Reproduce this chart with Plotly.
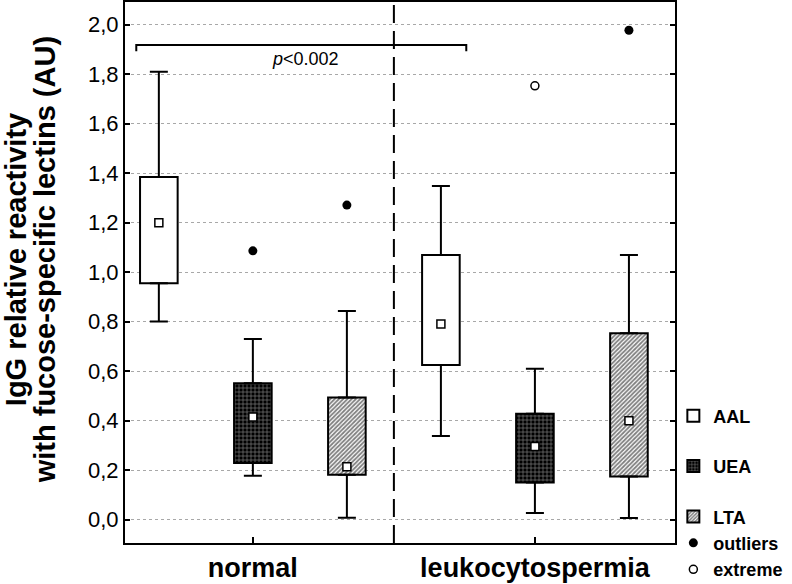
import plotly.graph_objects as go

# ---------------- data ----------------
groups = ["normal", "leukocytospermia"]
lectins = ["AAL", "UEA", "LTA"]

box_group = ["normal", "normal", "normal",
             "leukocytospermia", "leukocytospermia", "leukocytospermia"]
box_lectin = ["AAL", "UEA", "LTA", "AAL", "UEA", "LTA"]
whisker_min = [0.800, 0.177, 0.007, 0.338, 0.026, 0.006]
quartile1 = [0.955, 0.228, 0.181, 0.625, 0.150, 0.174]
median = [1.200, 0.414, 0.213, 0.790, 0.295, 0.399]
quartile3 = [1.385, 0.551, 0.493, 1.069, 0.427, 0.753]
whisker_max = [1.810, 0.730, 0.843, 1.348, 0.609, 1.069]

outlier_group = ["normal", "normal", "leukocytospermia"]
outlier_lectin = ["UEA", "LTA", "LTA"]
outlier_value = [1.086, 1.271, 1.978]

extreme_group = ["leukocytospermia"]
extreme_lectin = ["UEA"]
extreme_value = [1.753]

y_ticks = [0.0, 0.2, 0.4, 0.6, 0.8, 1.0, 1.2, 1.4, 1.6, 1.8, 2.0]
p_text = "<i>p</i>&lt;0.002"

# ---------------- helpers ----------------
def xpos(g, l):
    return groups.index(g) * len(lectins) + lectins.index(l)

BOX_W = 0.40
FONT = "Liberation Sans, Arial, sans-serif"

patterns = {
    "AAL": dict(shape="", fgcolor="black", bgcolor="white"),
    "UEA": dict(shape="+", fgcolor="white", bgcolor="black", size=4, solidity=0.3),
    "LTA": dict(shape="/", fgcolor="black", bgcolor="white", size=3, solidity=0.6),
}

fig = go.Figure()

# boxes (quartile ranges) as bars with a base
for i, lec in enumerate(lectins):
    idx = [k for k, l in enumerate(box_lectin) if l == lec]
    xs = [xpos(box_group[k], box_lectin[k]) for k in idx]
    fig.add_trace(go.Bar(
        x=xs,
        y=[quartile3[k] - quartile1[k] for k in idx],
        base=[quartile1[k] for k in idx],
        width=BOX_W,
        name=lec,
        legendgroup="g%d" % i if lec != "LTA" else "g_last",
        marker=dict(color="white", line=dict(color="black", width=2),
                    pattern=patterns[lec]),
        hoverinfo="skip",
    ))

xs_all = [xpos(g, l) for g, l in zip(box_group, box_lectin)]

# upper whiskers
fig.add_trace(go.Scatter(
    x=xs_all, y=quartile3, mode="markers",
    marker=dict(size=1, color="rgba(0,0,0,0)"),
    error_y=dict(type="data", symmetric=False,
                 array=[h - q for h, q in zip(whisker_max, quartile3)],
                 arrayminus=[0] * len(xs_all),
                 width=9, thickness=2, color="black"),
    showlegend=False, hoverinfo="skip",
))
# lower whiskers
fig.add_trace(go.Scatter(
    x=xs_all, y=quartile1, mode="markers",
    marker=dict(size=1, color="rgba(0,0,0,0)"),
    error_y=dict(type="data", symmetric=False,
                 array=[0] * len(xs_all),
                 arrayminus=[q - m for q, m in zip(quartile1, whisker_min)],
                 width=9, thickness=2, color="black"),
    showlegend=False, hoverinfo="skip",
))
# median squares
fig.add_trace(go.Scatter(
    x=xs_all, y=median, mode="markers",
    marker=dict(symbol="square", size=8, color="white",
                line=dict(color="black", width=1.5)),
    showlegend=False, hoverinfo="skip",
))
# outliers
fig.add_trace(go.Scatter(
    x=[xpos(g, l) for g, l in zip(outlier_group, outlier_lectin)],
    y=outlier_value, mode="markers", name="outliers", legendgroup="g_last",
    marker=dict(symbol="circle", size=9, color="black"),
))
# extremes
fig.add_trace(go.Scatter(
    x=[xpos(g, l) for g, l in zip(extreme_group, extreme_lectin)],
    y=extreme_value, mode="markers", name="extreme", legendgroup="g_last",
    marker=dict(symbol="circle", size=8, color="white",
                line=dict(color="black", width=1.5)),
))

# ---------------- decorations ----------------
n_l = len(lectins)
sep_x = n_l - 0.5
first_aal = xpos("normal", "AAL")
second_aal = xpos("leukocytospermia", "AAL")
br_left = first_aal - BOX_W / 2 - 0.04
br_right = second_aal + BOX_W / 2 + 0.07
br_y = 1.918
br_tip = 0.025

shapes = [
    dict(type="line", xref="x", yref="paper", x0=sep_x, x1=sep_x, y0=0, y1=1,
         line=dict(color="black", width=2, dash="18px,8px")),
    dict(type="path", xref="x", yref="y",
         path="M %f,%f L %f,%f L %f,%f L %f,%f" % (
             br_left, br_y - br_tip, br_left, br_y, br_right, br_y, br_right, br_y - br_tip),
         line=dict(color="black", width=2)),
]

annotations = [
    dict(text=p_text, x=(br_left + br_right) / 2 + 0.05, y=br_y - 0.058,
         xref="x", yref="y", showarrow=False, xanchor="center", yanchor="middle",
         font=dict(family=FONT, size=18, color="black")),
    dict(text="IgG relative reactivity", xref="paper", yref="paper",
         x=-0.198, y=0.523, textangle=-90, showarrow=False,
         xanchor="center", yanchor="middle",
         font=dict(family=FONT, size=29, color="black", weight="bold")),
    dict(text="with fucose-specific lectins (AU)", xref="paper", yref="paper",
         x=-0.145, y=0.523, textangle=-90, showarrow=False,
         xanchor="center", yanchor="middle",
         font=dict(family=FONT, size=29, color="black", weight="bold")),
]

fig.update_layout(
    width=792, height=584,
    margin=dict(l=125, r=117, t=2, b=41, autoexpand=False),
    plot_bgcolor="white", paper_bgcolor="white",
    barmode="overlay",
    separators=", ",
    font=dict(family=FONT, color="black"),
    shapes=shapes, annotations=annotations,
    showlegend=True,
    legend=dict(x=0.997, xanchor="left", y=0.269, yanchor="top",
                traceorder="grouped", tracegroupgap=24,
                bgcolor="rgba(0,0,0,0)",
                font=dict(family=FONT, size=18, color="black", weight="bold")),
)
fig.update_xaxes(
    range=[-0.36, 5.49], tickvals=[xpos(g, "UEA") for g in groups], ticktext=groups,
    ticks="inside", ticklen=6, tickwidth=1.5, tickcolor="black",
    showline=True, linewidth=2, linecolor="black", mirror=True,
    showgrid=False, zeroline=False, automargin=False,
    tickfont=dict(family=FONT, size=27, color="black", weight="bold"),
)
fig.update_yaxes(
    range=[-0.095, 2.092], tickvals=y_ticks, tickformat=".1f",
    ticks="inside", ticklen=5, tickwidth=1.5, tickcolor="black",
    showline=True, linewidth=2, linecolor="black", mirror="ticks",
    showgrid=True, gridcolor="#a8a8a8", griddash="dot", gridwidth=1,
    zeroline=False, automargin=False,
    tickfont=dict(family=FONT, size=22, color="black"),
)

fig.write_html("out.html",
               config={"displayModeBar": False},
               post_script="document.body.style.margin='0';document.body.style.padding='0';")
